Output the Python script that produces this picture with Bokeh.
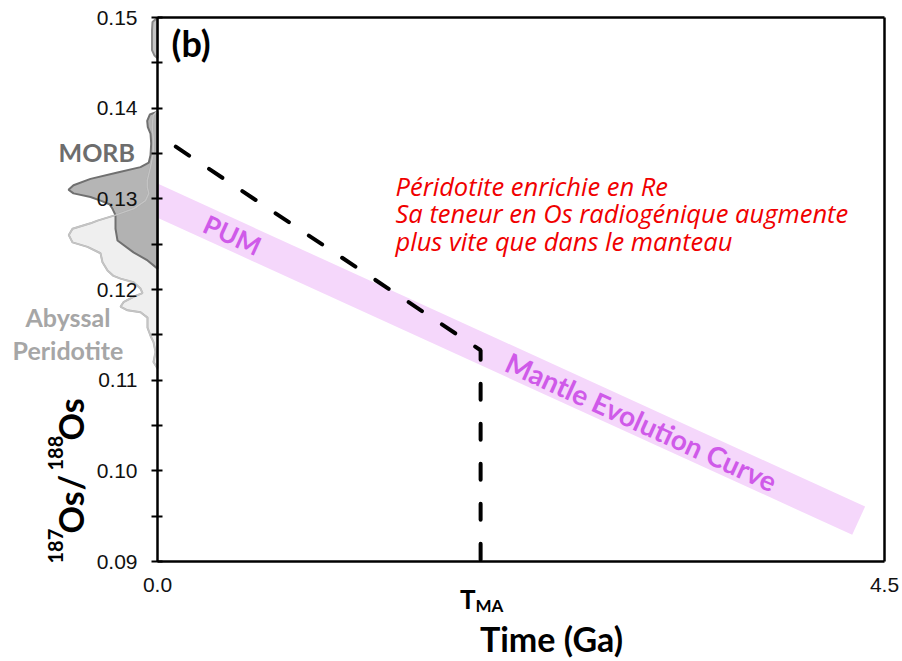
import math
from bokeh.plotting import figure
from bokeh.models import Label, FixedTicker, NumeralTickFormatter
from bokeh.embed import file_html
from bokeh.resources import INLINE

# ---------------- data ----------------
y_ticks = [0.09, 0.10, 0.11, 0.12, 0.13, 0.14, 0.15]
y_minor_ticks = [0.095, 0.105, 0.115, 0.125, 0.135, 0.145]
x_ticks = [0.0, 4.5]
t_ma = 2.0

# mantle evolution curve (PUM)
mantle_t = [0.0, 4.34]
mantle_os = [0.1298, 0.0945]

# Re-enriched peridotite path
enriched_t = [0.0, 2.0, 2.0]
enriched_os = [0.1371, 0.1133, 0.09]

# MORB distribution (relative density, drawn to the left of the axis)
morb_os = [0.1396, 0.1393, 0.1386, 0.1379, 0.1372, 0.1361, 0.1348, 0.1340,
           0.1335, 0.1329, 0.1322, 0.1315, 0.1310, 0.1306, 0.1302, 0.1298,
           0.1294, 0.1289, 0.1282, 0.1267, 0.1254, 0.1241, 0.1232, 0.1223]
morb_density = [0, 7.7, 10.3, 9.7, 7, 6.3, 7, 8.7,
                17, 40, 67, 84, 89, 84, 67, 57,
                48, 45, 42, 42, 40, 24, 10, 0]

# Abyssal peridotite distribution
abyssal_os = [0.1397, 0.1392, 0.1379, 0.1364, 0.1350, 0.1335, 0.1320, 0.1313,
              0.1306, 0.1298, 0.1289, 0.1282, 0.1276, 0.1273, 0.1267, 0.1260,
              0.1252, 0.1247, 0.1240, 0.1230, 0.1221, 0.1215, 0.1212, 0.1208,
              0.1201, 0.1196, 0.1192, 0.1186, 0.1181, 0.1177, 0.1175, 0.1169,
              0.1158, 0.1149, 0.1142, 0.1131, 0.1120, 0.1113]
abyssal_density = [0, 4.3, 5.3, 4, 4.3, 7, 10.3, 10.3,
                   8.7, 12, 24, 42, 60, 67, 85, 88.7,
                   85, 70, 57, 55, 50, 44, 37, 24,
                   17, 15, 24, 34, 37, 30, 17, 10,
                   10, 7, 4, 2, 4, 0]

# upper tail (above 0.145)
tail_os = [0.1500, 0.1495, 0.1486, 0.1464, 0.1458, 0.1455]
tail_density = [0, 5, 5.5, 5.5, 3, 0]

# ---------------- layout ----------------
W, H = 900, 660
BORDER = 1
F_LEFT, F_TOP = BORDER, BORDER
F_RIGHT, F_BOTTOM = W - BORDER, H - BORDER
# pixel positions of the plot box corners
PX_T0, PX_T1 = 157, 884
PX_OS_LO, PX_OS_HI = 561, 17
PX_X = (PX_T1 - PX_T0) / (x_ticks[-1] - x_ticks[0])
PX_Y = (PX_OS_LO - PX_OS_HI) / (y_ticks[-1] - y_ticks[0])
x_range = (x_ticks[0] - (PX_T0 - F_LEFT) / PX_X, x_ticks[-1] + (F_RIGHT - PX_T1) / PX_X)
y_range = (y_ticks[0] - (F_BOTTOM - PX_OS_LO) / PX_Y, y_ticks[-1] + (PX_OS_HI - F_TOP) / PX_Y)
DENS_SCALE = 1.0 / PX_X  # one density unit = one pixel


def ix(px):
    return x_ticks[0] + (px - PX_T0) / PX_X


def iy(py):
    return y_ticks[-1] - (py - PX_OS_HI) / PX_Y


p = figure(width=W, height=H, x_range=x_range, y_range=y_range,
           output_backend="svg", toolbar_location=None,
           min_border_left=BORDER, min_border_right=BORDER,
           min_border_top=BORDER, min_border_bottom=BORDER)
p.outline_line_color = None
p.grid.visible = False
p.background_fill_color = "white"

# ---- mantle evolution band ----
x0, x1 = mantle_t
y0, y1 = mantle_os
dxp = (x1 - x0) * PX_X
dyp = (y1 - y0) * PX_Y
L = math.hypot(dxp, dyp)
ux, uy = dxp / L, dyp / L
nx, ny = -uy, ux
hw = 15.5
dv = hw / ux
band_x = [x0, x1 + nx * hw / PX_X, x1 - nx * hw / PX_X, x0]
band_y = [y0 + dv / PX_Y, y1 + ny * hw / PX_Y, y1 - ny * hw / PX_Y, y0 - dv / PX_Y]
p.patch(band_x, band_y, fill_color="#f5d7fb", line_color=None)

# ---- distributions ----
ab_x = [-d * DENS_SCALE for d in abyssal_density]
mo_x = [-d * DENS_SCALE for d in morb_density]
ta_x = [-d * DENS_SCALE for d in tail_density]
p.patch(ab_x, abyssal_os, fill_color="#efefef", line_color="#b4b4b4", line_width=2)
p.patch(mo_x, morb_os, fill_color="#a2a2a2", fill_alpha=0.8, line_color="#707070", line_width=2)
p.line(ab_x, abyssal_os, line_color="#c4c4c4", line_width=1.5)
p.patch(ta_x, tail_os, fill_color="#c4c4c4", line_color="#888888", line_width=2)

# ---- enriched peridotite dashed path ----
p.line(enriched_t, enriched_os, line_color="black", line_width=4,
       line_dash="16 24", line_dash_offset=18, line_cap="round")

# ---- plot box ----
p.line([x_ticks[0], x_ticks[-1]], [y_ticks[0], y_ticks[0]], line_color="black", line_width=2.5)
p.line([x_ticks[0], x_ticks[-1]], [y_ticks[-1], y_ticks[-1]], line_color="black", line_width=2.5)
p.line([x_ticks[-1], x_ticks[-1]], [y_ticks[0], y_ticks[-1]], line_color="black", line_width=2.5)

# ---- axes ----
ya = p.yaxis[0]
ya.fixed_location = x_ticks[0]
ya.bounds = (y_ticks[0], y_ticks[-1])
ya.ticker = FixedTicker(ticks=y_ticks, minor_ticks=y_minor_ticks)
ya.formatter = NumeralTickFormatter(format="0.00")
ya.axis_line_width = 2.5
ya.axis_line_color = "black"
ya.major_tick_in = 5
ya.major_tick_out = 6
ya.minor_tick_in = 5
ya.minor_tick_out = 6
ya.major_tick_line_width = 2
ya.minor_tick_line_width = 2
ya.major_tick_line_color = "black"
ya.minor_tick_line_color = "black"
ya.major_label_text_font = "Liberation Sans"
ya.major_label_text_font_size = "21px"
ya.major_label_text_color = "#111111"
ya.major_label_standoff = 14

xa = p.xaxis[0]
xa.fixed_location = y_ticks[0]
xa.ticker = FixedTicker(ticks=x_ticks, minor_ticks=[])
xa.formatter = NumeralTickFormatter(format="0.0")
xa.axis_line_color = None
xa.major_tick_line_color = None
xa.minor_tick_line_color = None
xa.major_tick_in = 0
xa.major_tick_out = 0
xa.major_label_text_font = "Liberation Sans"
xa.major_label_text_font_size = "21px"
xa.major_label_text_color = "#111111"
xa.major_label_standoff = 16


# ---- text ----
def lab(text, x, y, size, color="black", style="bold", font="Lato",
        align="left", baseline="middle", angle=0.0):
    p.add_layout(Label(x=x, y=y, text=text, text_font=font, text_font_size=size,
                       text_color=color, text_font_style=style, text_align=align,
                       text_baseline=baseline, angle=angle))


lab("(b)", ix(171), iy(42), "36px")
lab("MORB", ix(58), iy(151), "25px", color="#6d6d6d")
lab("Abyssal", ix(25), iy(316), "25px", color="#a6a6a6")
lab("Peridotite", ix(12), iy(349), "25px", color="#a6a6a6")

red = "#f00000"
lab("Péridotite enrichie en Re", ix(395), iy(185), "25.5px", color=red, style="italic", font="Open Sans")
lab("Sa teneur en Os radiogénique augmente", ix(395), iy(212), "25.5px", color=red, style="italic", font="Open Sans")
lab("plus vite que dans le manteau", ix(395), iy(240), "25.5px", color=red, style="italic", font="Open Sans")

ang = math.atan2(dyp, dxp)
mag = "#cf5ae9"
pum_t = ix(232)
lab("PUM", pum_t, y0 + (y1 - y0) * (pum_t - x0) / (x1 - x0), "26px", color=mag,
    align="center", angle=ang)
mec_t = ix(641)
lab("Mantle Evolution Curve", mec_t, y0 + (y1 - y0) * (mec_t - x0) / (x1 - x0), "28px",
    color=mag, align="center", angle=ang)

# x-axis specials
lab("T", ix(475), iy(598), "26px", align="right", baseline="alphabetic")
lab("MA", ix(475), iy(605), "17px", align="left", baseline="alphabetic")
lab("Time (Ga)", ix(551), iy(638), "34px", align="center", baseline="alphabetic")

# rotated y-axis title: 187Os/188Os
lab("187", ix(55), iy(563), "20px", baseline="alphabetic", angle=math.pi / 2)
lab("Os", ix(70), iy(533), "34px", baseline="alphabetic", angle=math.pi / 2)
lab("/", ix(70), iy(490), "34px", baseline="alphabetic", angle=math.pi / 2)
lab("188", ix(55), iy(470), "20px", baseline="alphabetic", angle=math.pi / 2)
lab("Os", ix(70), iy(440), "34px", baseline="alphabetic", angle=math.pi / 2)

open("out.html", "w").write(file_html(p, INLINE))
